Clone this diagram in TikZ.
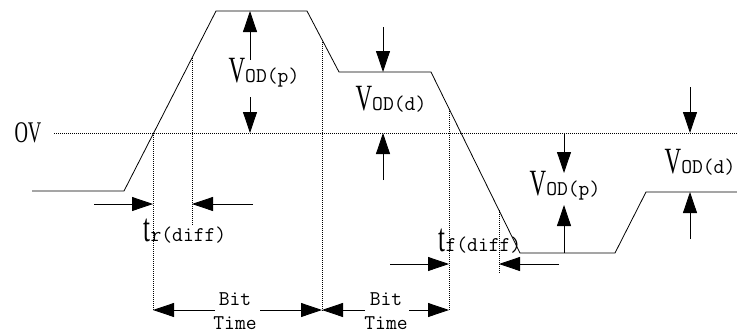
\documentclass[tikz,border=0pt]{standalone}
\usepackage{fontspec}
\usetikzlibrary{arrows.meta}
\newfontfamily\cserif[FakeStretch=0.62]{Liberation Serif}
\newcommand{\bigV}{{\cserif\fontsize{37}{37}\selectfont V}}
\newcommand{\bigT}{{\cserif\fontsize{40}{40}\selectfont t}}
\newcommand{\smallsub}[1]{{\ttfamily\fontsize{21}{21}\selectfont #1}}
\begin{document}
\begin{tikzpicture}[x=1pt,y=-1pt,
  wave/.style={line width=0.8pt},
  dotline/.style={line width=0.6pt,dash pattern=on 1pt off 1pt},
  marker/.style={line width=0.8pt,-{Triangle[length=21pt,width=14pt]}},
  lbl/.style={inner sep=0pt,anchor=center},
  bt/.style={inner sep=0pt,align=center,font=\ttfamily\fontsize{21}{24}\selectfont}]
\useasboundingbox (0,0) rectangle (737,335);
% waveform
\coordinate (w0) at (32,191);
\coordinate (w1) at (124,191);
\coordinate (w2) at (216,11);
\coordinate (w3) at (307,11);
\coordinate (w4) at (339,72);
\coordinate (w5) at (431,72);
\coordinate (w6) at (520,253);
\coordinate (w7) at (615,253);
\coordinate (w8) at (646,192);
\coordinate (w9) at (737,192);
\draw[wave] (w0) -- (w1) -- (w2) -- (w3) -- (w4) -- (w5) -- (w6) -- (w7) -- (w8) -- (w9);
% zero line
\node[lbl] (zv) at (28,133) {\cserif\fontsize{30}{30}\selectfont OV};
\coordinate (z0) at (54,133);
\coordinate (z1) at (737,133);
\draw[dotline] (z0) -- (z1);
% dotted verticals
\coordinate (d1a) at (153,133); \coordinate (d1b) at (153,311);
\coordinate (d2a) at (192,58);  \coordinate (d2b) at (192,226);
\coordinate (d3a) at (322,40);  \coordinate (d3b) at (322,311);
\coordinate (d4a) at (449,109); \coordinate (d4b) at (449,311);
\coordinate (d5a) at (499,210); \coordinate (d5b) at (499,273);
\draw[dotline] (d1a) -- (d1b);
\draw[dotline] (d2a) -- (d2b);
\draw[dotline] (d3a) -- (d3b);
\draw[dotline] (d4a) -- (d4b);
\draw[dotline] (d5a) -- (d5b);
% VOD(p) upper
\coordinate (a1s) at (250,60);  \coordinate (a1e) at (250,11);
\coordinate (a2s) at (250,97);  \coordinate (a2e) at (250,133);
\draw[marker] (a1s) -- (a1e);
\draw[marker] (a2s) -- (a2e);
\node[lbl] (vodp1) at (264,73) {\bigV\smallsub{OD(p)}};
% VOD(d) middle
\coordinate (b1s) at (383,27);  \coordinate (b1e) at (383,72);
\coordinate (b2s) at (383,180); \coordinate (b2e) at (383,133);
\draw[marker] (b1s) -- (b1e);
\draw[marker] (b2s) -- (b2e);
\node[lbl] (vodd1) at (391,99) {\bigV\smallsub{OD(d)}};
% VOD(d) right
\coordinate (c1s) at (690,87);  \coordinate (c1e) at (690,133);
\coordinate (c2s) at (690,239); \coordinate (c2e) at (690,192);
\draw[marker] (c1s) -- (c1e);
\draw[marker] (c2s) -- (c2e);
\node[lbl] (vodd2) at (700,162) {\bigV\smallsub{OD(d)}};
% VOD(p) lower
\coordinate (e1s) at (564,133); \coordinate (e1e) at (564,173);
\coordinate (e2s) at (564,253); \coordinate (e2e) at (564,205);
\draw[marker] (e1s) -- (e1e);
\draw[marker] (e2s) -- (e2e);
\node[lbl] (vodp2) at (565,186) {\bigV\smallsub{OD(p)}};
% tr(diff)
\coordinate (r1s) at (94,204);  \coordinate (r1e) at (153,204);
\coordinate (r2s) at (253,204); \coordinate (r2e) at (192,204);
\draw[marker] (r1s) -- (r1e);
\draw[marker] (r2s) -- (r2e);
\node[lbl] (trd) at (185,231) {\bigT\smallsub{r(diff)}};
% tf(diff)
\coordinate (f1s) at (390,264); \coordinate (f1e) at (449,264);
\coordinate (f2s) at (559,264); \coordinate (f2e) at (499,264);
\draw[marker] (f1s) -- (f1e);
\draw[marker] (f2s) -- (f2e);
\node[lbl] (tfd) at (480,241) {\bigT\smallsub{f(diff)}};
% Bit time 1
\node[bt] (bt1) at (235,311) {Bit\\Time};
\coordinate (g1s) at (215,310); \coordinate (g1e) at (153,310);
\coordinate (g2s) at (260,310); \coordinate (g2e) at (322,310);
\draw[marker] (g1s) -- (g1e);
\draw[marker] (g2s) -- (g2e);
% Bit time 2
\node[bt] (bt2) at (386,311) {Bit\\Time};
\coordinate (h1s) at (365,310); \coordinate (h1e) at (322,310);
\coordinate (h2s) at (409,310); \coordinate (h2e) at (449,310);
\draw[marker] (h1s) -- (h1e);
\draw[marker] (h2s) -- (h2e);
\end{tikzpicture}
\end{document}
